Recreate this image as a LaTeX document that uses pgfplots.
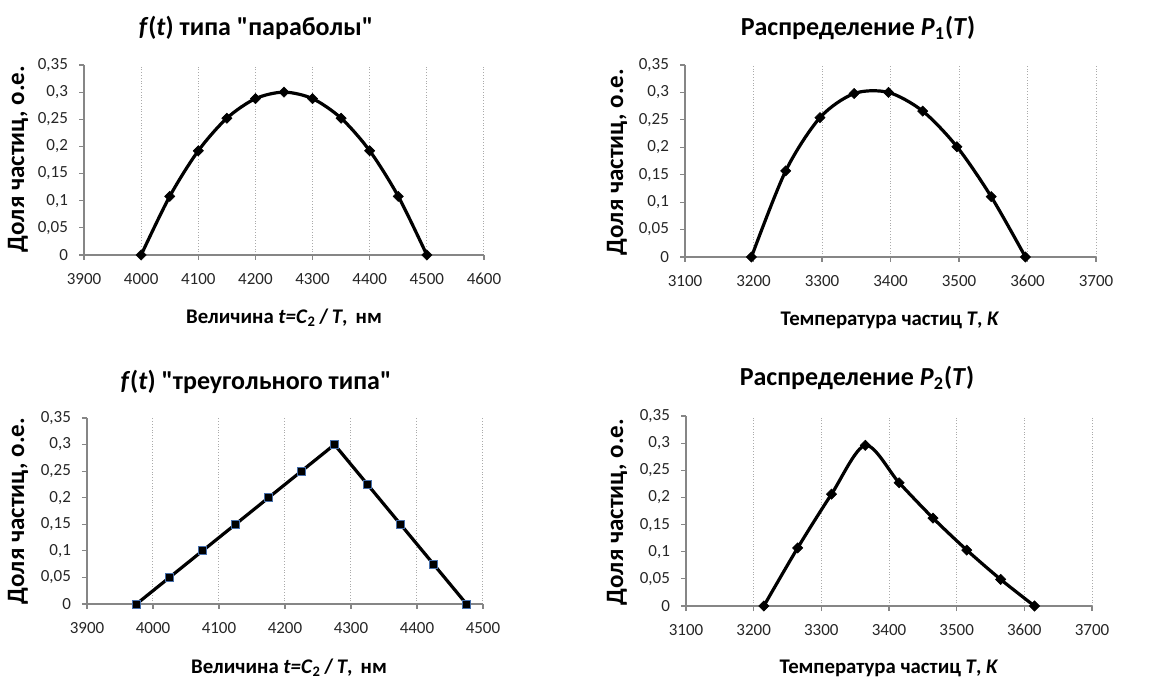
\documentclass[border=0pt]{standalone}
\usepackage{fontspec}
\setmainfont{Carlito}[Ligatures=TeXOff]
\usepackage{pgfplots}
\pgfplotsset{compat=1.18}
\definecolor{axgray}{RGB}{134,134,134}
\definecolor{gridgray}{RGB}{170,170,170}
\definecolor{mkblue}{RGB}{70,110,170}
\pgfplotsset{
  panel/.style={
    scale only axis,
    axis lines*=left,
    axis line style={axgray, line width=0.6pt},
    tick style={axgray, line width=0.6pt},
    tick align=outside,
    major tick length=2.5pt,
    xmajorgrids,
    grid style={gridgray, densely dotted, line width=0.5pt},
    ymin=0, ymax=0.35,
    ytick={0,0.05,0.1,0.15,0.2,0.25,0.3,0.35},
    yticklabels={0,{0,05},{0,1},{0,15},{0,2},{0,25},{0,3},{0,35}},
    scaled x ticks=false,
    /pgf/number format/1000 sep={},
    /pgf/number format/assume math mode=true,
    tick label style={font=\fontsize{8.5}{9.5}\selectfont, text=black!85},
    xticklabel style={yshift=-3pt},
    yticklabel style={xshift=-2pt},
    clip=false,
  },
  curve/.style={black, line width=1.6pt, mark=square*, mark size=1.8pt,
    mark options={rotate=45, fill=black, draw=black, line width=0.3pt}},
}
\newcommand{\ttl}{\bfseries\fontsize{13}{15}\selectfont}
\newcommand{\lbl}{\bfseries\fontsize{10.4}{12}\selectfont}
\newcommand{\ylbl}{\bfseries\fontsize{12.5}{14}\selectfont}
\begin{document}
\begin{tikzpicture}
\useasboundingbox (0,0) rectangle (587.5pt,-339.5pt);
% Panel 1
\begin{axis}[panel, at={(42pt,-127.5pt)}, anchor=south west,
  width=200pt, height=95pt, xmin=3900, xmax=4600,
  xtick={3900,4000,4100,4200,4300,4400,4500,4600}]
\addplot[curve, smooth] coordinates {
(4000,0) (4050,0.108) (4100,0.192) (4150,0.252) (4200,0.288) (4250,0.300)
(4300,0.288) (4350,0.252) (4400,0.192) (4450,0.108) (4500,0)};
\end{axis}
% Panel 2
\begin{axis}[panel, at={(342.5pt,-128.5pt)}, anchor=south west,
  width=205.5pt, height=96pt, xmin=3100, xmax=3700,
  xtick={3100,3200,3300,3400,3500,3600,3700}]
\addplot[curve, smooth] coordinates {
(3197,0) (3247,0.157) (3297,0.254) (3347,0.298) (3397,0.300)
(3447,0.266) (3497,0.201) (3547,0.110) (3597,0)};
\end{axis}
% Panel 3
\begin{axis}[panel, at={(43.5pt,-302pt)}, anchor=south west,
  width=198pt, height=93pt, xmin=3900, xmax=4500,
  xtick={3900,4000,4100,4200,4300,4400,4500}]
\addplot[black, line width=1.6pt, mark=square*, mark size=2pt,
  mark options={fill=black, draw=mkblue, line width=0.4pt}] coordinates {
(3975,0) (4025,0.05) (4075,0.1) (4125,0.15) (4175,0.2) (4225,0.25)
(4275,0.3) (4325,0.225) (4375,0.15) (4425,0.075) (4475,0)};
\end{axis}
% Panel 4
\begin{axis}[panel, at={(343pt,-303pt)}, anchor=south west,
  width=203pt, height=95pt, xmin=3100, xmax=3700,
  xtick={3100,3200,3300,3400,3500,3600,3700}]
\addplot[curve, smooth] coordinates {
(3215,0) (3265,0.107) (3315,0.206) (3365,0.296) (3415,0.227)
(3465,0.162) (3515,0.103) (3565,0.049) (3615,0)};
\end{axis}
% Titles
\node[font=\ttl] at (128pt,-14pt) {\textit{f}(\textit{t}) типа "параболы"};
\node[font=\ttl] at (429pt,-14pt) {Распределение \textit{P}\textsubscript{1}(\textit{T})};
\node[font=\ttl] at (128pt,-191pt) {\textit{f}(\textit{t}) "треугольного типа"};
\node[font=\ttl] at (428.5pt,-189pt) {Распределение \textit{P}\textsubscript{2}(\textit{T})};
% x labels
\node[font=\lbl] at (142pt,-159pt) {Величина \textit{t=C}\textsubscript{2}\,/\,\textit{T},\, нм};
\node[font=\lbl] at (445pt,-160pt) {Температура частиц \textit{T}, \textit{K}};
\node[font=\lbl] at (144.5pt,-334pt) {Величина \textit{t=C}\textsubscript{2}\,/\,\textit{T},\, нм};
\node[font=\lbl] at (444.5pt,-334pt) {Температура частиц \textit{T}, \textit{K}};
% y labels
\node[font=\ylbl, rotate=90] at (9pt,-79.5pt) {Доля частиц, о.е.};
\node[font=\ylbl, rotate=90] at (308.5pt,-81pt) {Доля частиц, о.е.};
\node[font=\ylbl, rotate=90] at (9pt,-255.5pt) {Доля частиц, о.е.};
\node[font=\ylbl, rotate=90] at (308.5pt,-256pt) {Доля частиц, о.е.};
\end{tikzpicture}
\end{document}
